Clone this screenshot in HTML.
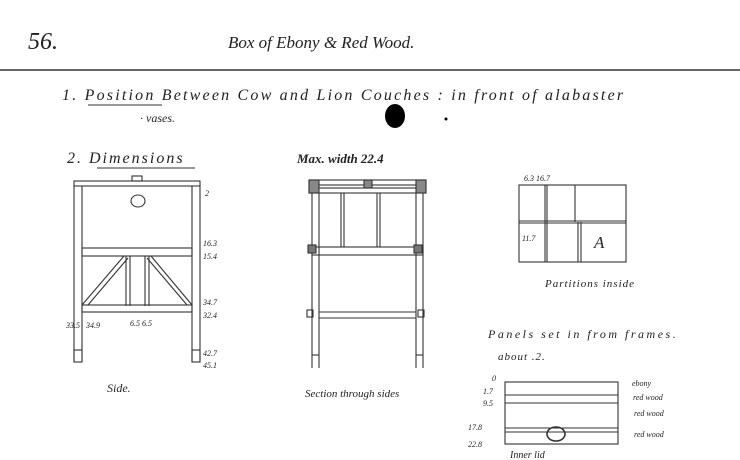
<!DOCTYPE html>
<html><head><meta charset="utf-8"><style>
html,body{margin:0;padding:0;background:#fff;}
svg{display:block;}
text{font-family:"Liberation Serif",serif;font-style:italic;fill:#222;}
</style></head><body>
<svg width="740" height="460" viewBox="0 0 740 460" xmlns="http://www.w3.org/2000/svg">
<rect width="740" height="460" fill="#fff"/>
<g stroke="#333" fill="none" stroke-width="1.1">
<line x1="0" y1="70" x2="740" y2="70" stroke="#666" stroke-width="2"/>
<line x1="88" y1="105" x2="162" y2="105"/>
<line x1="97" y1="168" x2="195" y2="168"/>
<!-- Side view -->
<rect x="74" y="181" width="126" height="5"/>
<rect x="132" y="176" width="10" height="5"/>
<line x1="74" y1="186" x2="74" y2="362"/><line x1="82" y1="186" x2="82" y2="362"/>
<line x1="192" y1="186" x2="192" y2="362"/><line x1="200" y1="186" x2="200" y2="362"/>
<ellipse cx="138" cy="201" rx="7" ry="6"/>
<rect x="82" y="248" width="110" height="8"/>
<line x1="126" y1="256" x2="126" y2="306"/><line x1="130" y1="256" x2="130" y2="306"/>
<line x1="145" y1="256" x2="145" y2="306"/><line x1="149" y1="256" x2="149" y2="306"/>
<line x1="124" y1="256" x2="82" y2="305"/><line x1="128" y1="258" x2="88" y2="305"/>
<line x1="151" y1="256" x2="192" y2="305"/><line x1="147" y1="258" x2="187" y2="305"/>
<rect x="82" y="305" width="110" height="7"/>
<rect x="74" y="350" width="8" height="12"/><rect x="192" y="350" width="8" height="12"/>
<!-- Section view -->
<rect x="309" y="180" width="117" height="5"/>
<rect x="309" y="188" width="117" height="5"/>
<rect x="309" y="180" width="10" height="13" fill="#888"/>
<rect x="364" y="180" width="8" height="8" fill="#888"/>
<rect x="416" y="180" width="10" height="13" fill="#888"/>
<line x1="312" y1="193" x2="312" y2="368"/><line x1="319" y1="193" x2="319" y2="368"/>
<line x1="416" y1="193" x2="416" y2="368"/><line x1="423" y1="193" x2="423" y2="368"/>
<line x1="341" y1="193" x2="341" y2="247"/><line x1="344" y1="193" x2="344" y2="247"/>
<line x1="377" y1="193" x2="377" y2="247"/><line x1="380" y1="193" x2="380" y2="247"/>
<rect x="312" y="247" width="111" height="8"/>
<rect x="308" y="245" width="8" height="8" fill="#777"/><rect x="414" y="245" width="8" height="8" fill="#777"/>
<line x1="319" y1="312" x2="416" y2="312"/><line x1="319" y1="318" x2="416" y2="318"/>
<rect x="307" y="310" width="6" height="7"/><rect x="418" y="310" width="6" height="7"/>
<line x1="312" y1="355" x2="319" y2="355"/><line x1="416" y1="355" x2="423" y2="355"/>
<!-- partitions -->
<rect x="519" y="185" width="107" height="77"/>
<line x1="545" y1="185" x2="545" y2="262"/><line x1="547" y1="185" x2="547" y2="262"/>
<line x1="575" y1="185" x2="575" y2="222"/><line x1="578" y1="222" x2="578" y2="262"/><line x1="581" y1="222" x2="581" y2="262"/>
<line x1="519" y1="221" x2="626" y2="221"/><line x1="519" y1="223" x2="626" y2="223"/>
<!-- inner lid -->
<rect x="505" y="382" width="113" height="62"/>
<line x1="505" y1="395" x2="618" y2="395"/>
<line x1="505" y1="403" x2="618" y2="403"/>
<line x1="505" y1="428" x2="618" y2="428"/>
<line x1="505" y1="432" x2="618" y2="432"/>
<ellipse cx="556" cy="434" rx="9" ry="7" stroke-width="1.6"/>
</g>
<ellipse cx="395" cy="116" rx="10" ry="12" fill="#000"/>
<circle cx="446" cy="119" r="1.5" fill="#000"/>
<text x="28" y="49" font-size="24">56.</text>
<text x="228" y="48" font-size="17">Box of Ebony &amp; Red Wood.</text>
<text x="62" y="100" font-size="16" letter-spacing="2.2">1. Position  Between  Cow and  Lion  Couches :  in  front  of  alabaster</text>
<text x="140" y="122" font-size="12">· vases.</text>
<text x="67" y="163" font-size="16" letter-spacing="2">2. Dimensions</text>
<text x="297" y="163" font-size="13" font-weight="bold">Max. width 22.4</text>
<g font-size="8">
<text x="205" y="196">2</text><text x="203" y="246">16.3</text><text x="203" y="259">15.4</text>
<text x="203" y="305">34.7</text><text x="203" y="318">32.4</text>
<text x="203" y="356">42.7</text><text x="203" y="368">45.1</text>
<text x="66" y="328">33.5</text><text x="86" y="328">34.9</text><text x="130" y="326">6.5 6.5</text>
<text x="524" y="181">6.3  16.7</text><text x="522" y="241">11.7</text>
<text x="492" y="381">0</text><text x="483" y="394">1.7</text><text x="483" y="406">9.5</text>
<text x="468" y="430">17.8</text><text x="468" y="447">22.8</text>
<text x="632" y="386">ebony</text><text x="633" y="400">red wood</text><text x="634" y="416">red wood</text><text x="634" y="437">red wood</text>
</g>
<text x="594" y="248" font-size="17" font-style="normal" font-family="Liberation Sans">A</text>
<text x="107" y="392" font-size="12">Side.</text>
<text x="305" y="397" font-size="11">Section through sides</text>
<text x="545" y="287" font-size="11" letter-spacing="1">Partitions inside</text>
<text x="488" y="338" font-size="12" letter-spacing="2.5">Panels set in from frames.</text>
<text x="498" y="360" font-size="11" letter-spacing="1">about .2.</text>
<text x="510" y="458" font-size="10">Inner lid</text>
</svg>
</body></html>
